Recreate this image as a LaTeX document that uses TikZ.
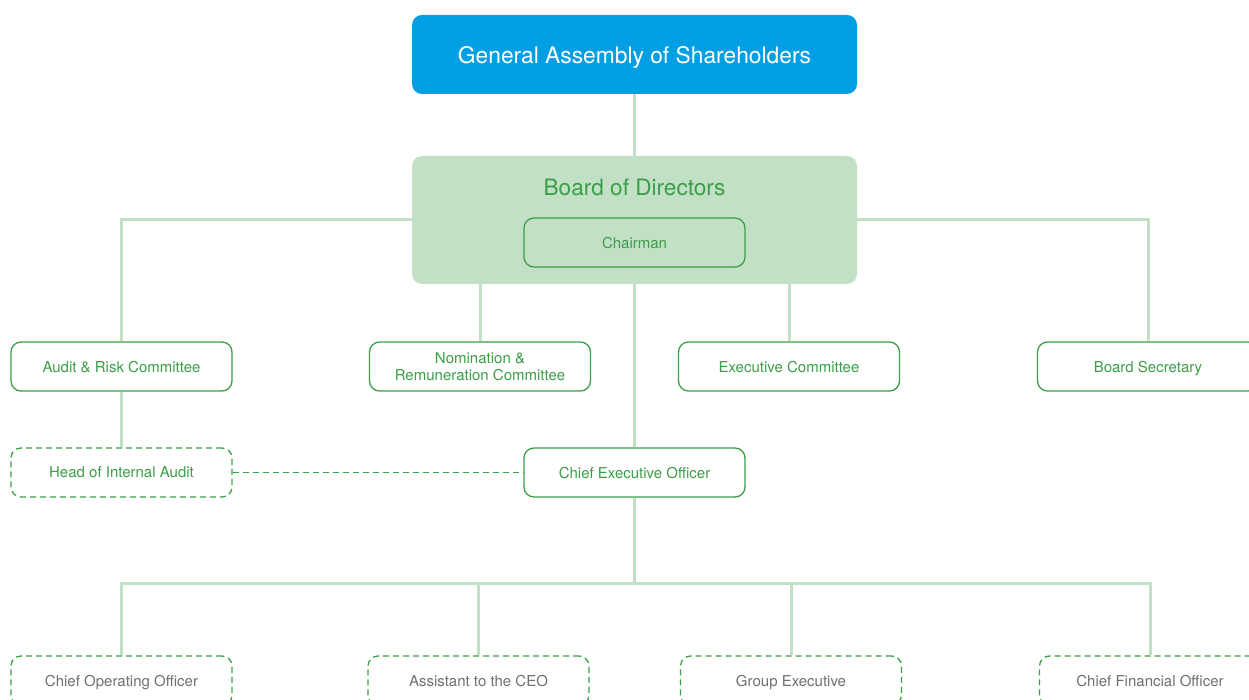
\documentclass[tikz,border=0pt]{standalone}
\usepackage{fontspec}
\setmainfont{TeX Gyre Heros}
\usepackage{tikz}

\definecolor{gablue}{HTML}{009FE3}
\definecolor{lgreen}{HTML}{C2E0C5}
\definecolor{dgreen}{HTML}{3C9E48}
\definecolor{txtgray}{HTML}{707070}

\begin{document}
\begin{tikzpicture}[x=1pt, y=-1pt,
  box/.style = {draw=dgreen, line width=1.3pt, rounded corners=10pt, fill=white,
    minimum width=221pt, minimum height=49pt, text=dgreen, align=center,
    text depth=0pt, font=\fontsize{15}{17.5}\selectfont},
  dbox/.style = {box, dashed, dash pattern=on 6pt off 4pt},
  gbox/.style = {dbox, text=txtgray},
  link/.style = {draw=lgreen, line width=3pt},
  dlink/.style = {draw=dgreen, line width=1.3pt, dash pattern=on 6pt off 4pt}]
\clip (0,0) rectangle (1249,700);
\fill[white] (0,0) rectangle (1249,700);

\node[fill=gablue, rounded corners=10pt, minimum width=445pt, minimum height=79pt,
  text=white, text depth=0pt, font=\fontsize{22.8}{27}\selectfont] (gas) at (634.5,54.5) {General Assembly of Shareholders};
\node[fill=lgreen, rounded corners=10pt, minimum width=445pt, minimum height=128pt] (bod) at (634.5,220) {};
\node[text=dgreen, text depth=0pt, font=\fontsize{22.6}{27}\selectfont] (bodt) at (634.5,187.5) {Board of Directors};
\node[box, fill=none] (chair) at (634.5,242.5) {Chairman};

\node[box] (arc) at (121.5,366.5) {Audit \& Risk Committee};
\node[box] (nrc) at (480,366.5) {Nomination \&\\Remuneration Committee};
\node[box] (exc) at (789,366.5) {Executive Committee};
\node[box] (sec) at (1148,366.5) {Board Secretary};

\node[dbox] (hia) at (121.5,472.5) {Head of Internal Audit};
\node[box] (ceo) at (634.5,472.5) {Chief Executive Officer};

\coordinate (hub) at (634.5,583);
\node[gbox] (coo) at (121.5,680.5) {Chief Operating Officer};
\node[gbox] (asst) at (478.5,680.5) {Assistant to the CEO};
\node[gbox] (gex) at (791,680.5) {Group Executive};
\node[gbox] (cfo) at (1150,680.5) {Chief Financial Officer};

\draw[link] (gas) -- (bod);
\draw[link] (bod.west) -| (arc);
\draw[link] (bod.east) -| (sec);
\draw[link] (bod.south -| nrc) -- (nrc);
\draw[link] (bod.south -| exc) -- (exc);
\draw[link] (bod.south) -- (ceo);
\draw[link] (arc) -- (hia);
\draw[dlink] (hia) -- (ceo);
\draw[link] (ceo) -- (hub);
\draw[link] (hub) -| (coo);
\draw[link] (hub) -| (asst);
\draw[link] (hub) -| (gex);
\draw[link] (hub) -| (cfo);
\end{tikzpicture}
\end{document}
